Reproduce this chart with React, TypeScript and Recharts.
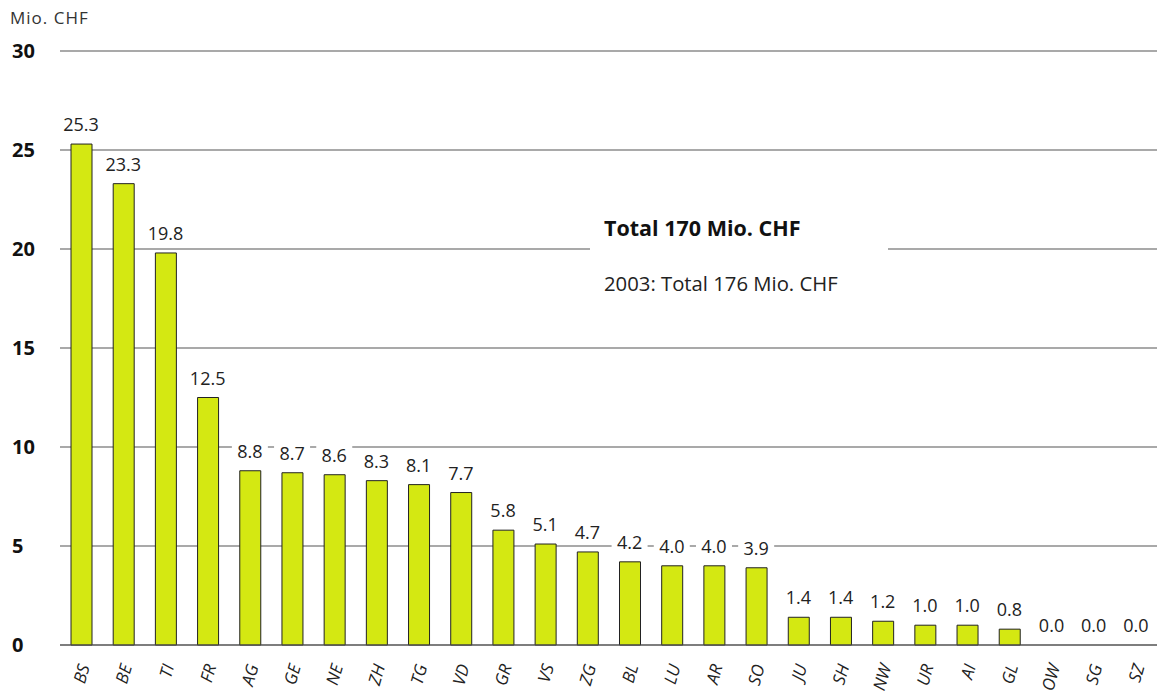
import { ComposedChart, Bar, Line, XAxis, YAxis, CartesianGrid, LabelList } from "recharts";

const FONT = "'Open Sans', 'Noto Sans', sans-serif";
const LIME = "#d4e812";

const cantons = ["BS", "BE", "TI", "FR", "AG", "GE", "NE", "ZH", "TG", "VD", "GR", "VS", "ZG", "BL", "LU", "AR", "SO", "JU", "SH", "NW", "UR", "AI", "GL", "OW", "SG", "SZ"];
const amounts = [25.3, 23.3, 19.8, 12.5, 8.8, 8.7, 8.6, 8.3, 8.1, 7.7, 5.8, 5.1, 4.7, 4.2, 4.0, 4.0, 3.9, 1.4, 1.4, 1.2, 1.0, 1.0, 0.8, 0.0, 0.0, 0.0];
const yTicks = [0, 5, 10, 15, 20, 25, 30];

const data = cantons.map((c, i) => ({ canton: c, value: amounts[i] }));

// Y-Ticks fett, linksbündig
function YTick(props: any) {
  const { y, payload } = props;
  return (
    <text x={12} y={y} dy={7} textAnchor="start" fontFamily={FONT} fontSize={20} fontWeight={700} fill="#111">
      {payload.value}
    </text>
  );
}

// X-Ticks kursiv, gedreht
function XTick(props: any) {
  const { x, y, payload } = props;
  return (
    <g transform={`translate(${x + 4},${y + 12})`}>
      <text transform="rotate(-74)" textAnchor="end" dy={5} fontFamily={FONT} fontSize={17} fontStyle="italic" fill="#222">
        {payload.value}
      </text>
    </g>
  );
}

// Wertlabel mit weissem Hintergrund (deckt Gitterlinien ab) – auch für 0.0
function ValueLabel(props: any) {
  const { x, y, width, value } = props;
  const cx = Number(x) + (Number(width) || 0) / 2;
  const cy = Number(y) - 19;
  return (
    <g>
      <rect x={cx - 18} y={cy - 10} width={36} height={20} fill="#fff" />
      <text x={cx} y={cy} dy={6} textAnchor="middle" fontFamily={FONT} fontSize={18} fill="#222">
        {Number(value).toFixed(1)}
      </text>
    </g>
  );
}

export default function App() {
  return (
    <div style={{ position: "absolute", left: 0, top: 0, width: 1157, height: 698, background: "#fff" }}>
      <div style={{ position: "absolute", left: 10, top: 6, fontFamily: FONT, fontSize: 17, color: "#333", letterSpacing: 1 }}>
        Mio. CHF
      </div>
      <ComposedChart width={1157} height={698} data={data} margin={{ top: 51, right: 0, left: 0, bottom: 0 }}>
        <CartesianGrid horizontal vertical={false} stroke="#555" strokeWidth={1.2} />
        <XAxis
          dataKey="canton"
          height={53}
          tick={<XTick />}
          tickLine={false}
          axisLine={{ stroke: "#555", strokeWidth: 1.2 }}
          interval={0}
        />
        <YAxis width={60} domain={[0, 30]} ticks={yTicks} tick={<YTick />} tickLine={false} axisLine={false} />
        <Bar dataKey="value" fill={LIME} stroke="#222" strokeWidth={1} barSize={21} isAnimationActive={false} />
        <Line dataKey="value" stroke="none" dot={false} activeDot={false} isAnimationActive={false}>
          <LabelList dataKey="value" content={<ValueLabel />} />
        </Line>
      </ComposedChart>
      <div
        style={{
          position: "absolute",
          left: 590,
          top: 205,
          width: 298,
          height: 100,
          background: "#fff",
          fontFamily: FONT,
          color: "#111",
        }}
      >
        <div style={{ position: "absolute", left: 14, top: 8, fontSize: 21.5, fontWeight: 700, whiteSpace: "nowrap" }}>Total 170 Mio. CHF</div>
        <div style={{ position: "absolute", left: 14, top: 64, fontSize: 20.3, color: "#222", whiteSpace: "nowrap" }}>2003: Total 176 Mio. CHF</div>
      </div>
    </div>
  );
}
